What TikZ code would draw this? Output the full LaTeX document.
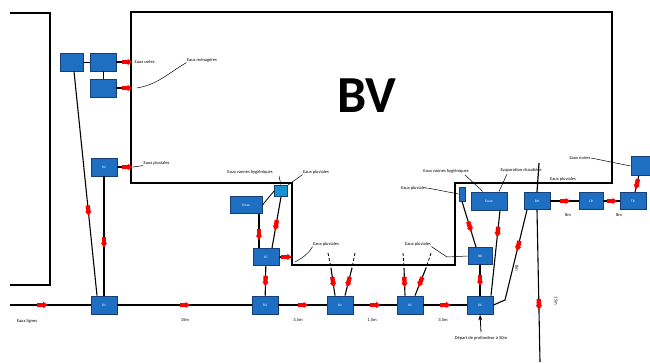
\documentclass[tikz,border=0pt]{standalone}
\usepackage{fontspec}
\setmainfont{Carlito}
\usetikzlibrary{decorations.markings}

\definecolor{blocbleu}{HTML}{1E6EC2}
\definecolor{blocbord}{HTML}{163F78}
\newcommand{\fleche}{%
  \fill[red] (-5pt,-2.2pt) rectangle (1.5pt,2.2pt);
  \fill[red] (1pt,-3.2pt) -- (5.5pt,0pt) -- (1pt,3.2pt) -- cycle;}

\begin{document}
\begin{tikzpicture}[
    x=1pt, y=-1pt,
    bloc/.style={draw=blocbord, fill=blocbleu, line width=0.8pt, inner sep=0pt,
        minimum width=26pt, minimum height=18pt, text=white,
        font=\fontsize{3.5}{4}\selectfont},
    etiq/.style={inner sep=0.5pt, font=\fontsize{4.5}{5}\selectfont},
    mur/.style={line width=1.8pt, line join=miter},
    trait/.style={line width=0.5pt},
    tuyau/.style={draw, line width=1.1pt, postaction={decorate,
        decoration={markings, mark=at position #1 with {\fleche}}}},
    tuyau/.default=0.5
  ]
  \useasboundingbox (0,0) rectangle (650,362);

  % murs
  \draw[mur] (10,13) -- (50,13) -- (50,285) -- (10,285);
  \draw[mur] (131,12) -- (612,12) -- (612,183) -- (455,183) -- (455,265)
    -- (292,265) -- (292,183) -- (131,183) -- cycle;
  \node[font=\fontsize{52}{52}\bfseries\selectfont] (bv) at (367,96) {BV};

  % blocs
  \node[bloc, minimum width=23pt] (b1) at (72,62) {};
  \node[bloc] (b2) at (103,62) {};
  \node[bloc] (b3) at (103,88) {};
  \node[bloc] (b4) at (104,167) {R2};
  \node[bloc] (r1) at (104,305) {R1};
  \node[bloc] (r2) at (265,305) {R3};
  \node[bloc] (r3) at (340,305) {R4};
  \node[bloc] (r4) at (410,305) {R5};
  \node[bloc] (r5) at (480,305) {R6};
  \node[bloc, minimum width=32pt, minimum height=17pt] (fosseA) at (246,205) {Fosse};
  \node[bloc, fill=blocbleu!75!cyan, minimum width=13pt, minimum height=11pt] (petitA) at (281,191) {};
  \node[bloc, minimum height=17pt] (r6) at (266,257) {R7};
  \node[bloc, minimum width=6pt, minimum height=14pt] (petitB) at (462,194) {};
  \node[bloc, minimum width=36pt] (fosseB) at (489,201) {Fosse};
  \node[bloc, minimum width=24pt, minimum height=17pt] (r7) at (480,256) {R8};
  \node[bloc, minimum height=17pt] (bh) at (537,201) {BH};
  \node[bloc, minimum width=24pt, minimum height=17pt] (c1) at (591,201) {CR};
  \node[bloc, minimum height=17pt] (c2) at (633,201) {TR};
  \node[bloc, minimum width=20pt, minimum height=19pt] (c3) at (641,166) {};

  % points libres
  \coordinate (entree) at (10,305);
  \coordinate (bvA) at (131,62);
  \coordinate (bvB) at (131,88);
  \coordinate (bvC) at (131,167);
  \coordinate (bvD) at (292,257);
  \coordinate (p1) at (328,253);
  \coordinate (q1) at (331,268);
  \coordinate (p2) at (355,253);
  \coordinate (q2) at (352,268);
  \coordinate (p3) at (403,253);
  \coordinate (q3) at (404,268);
  \coordinate (p4) at (431,253);
  \coordinate (q4) at (426,268);
  \coordinate (coude) at (505,300);
  \coordinate (bhhaut) at (539,163);
  \coordinate (bhbas) at (540,362);
  \coordinate (depart) at (481,332);

  % liaisons
  \draw[line width=0.8pt] (b1) -- (b2);
  \draw[line width=0.8pt] (b2) -- (b3);
  \draw[tuyau=0.7] (b2.east) -- (bvA);
  \draw[tuyau=0.7] (b3.east) -- (bvB);
  \draw[tuyau=0.7] (b4.east) -- (bvC);
  \draw[tuyau=0.62] ([xshift=2pt]b1.south) -- ([xshift=-7pt]r1.north);
  \draw[tuyau=0.55] (b4.south) -- (r1.north);
  \draw[tuyau=0.4] (entree) -- (r1);
  \draw[tuyau] (r1) -- (r2);
  \draw[tuyau] (r2) -- (r3);
  \draw[tuyau] (r3) -- (r4);
  \draw[tuyau] (r4) -- (r5);
  \draw[line width=0.8pt] (fosseA.east) -- (petitA.west);
  \draw[tuyau=0.6] ([xshift=13pt]fosseA.south) -- ([xshift=-7pt]r6.north);
  \draw[tuyau=0.55] (petitA.south) -- ([xshift=6pt]r6.north);
  \draw[tuyau=0.55] (r6.east) -- (bvD);
  \draw[tuyau] (r6) -- (r2);
  \draw[densely dashed, line width=0.8pt] (p1) -- (q1);
  \draw[densely dashed, line width=0.8pt] (p2) -- (q2);
  \draw[densely dashed, line width=0.8pt] (p3) -- (q3);
  \draw[densely dashed, line width=0.8pt] (p4) -- (q4);
  \draw[tuyau] (q1) -- ([xshift=-5pt]r3.north);
  \draw[tuyau] (q2) -- ([xshift=5pt]r3.north);
  \draw[tuyau] (q3) -- ([xshift=-5pt]r4.north);
  \draw[tuyau] (q4) -- ([xshift=5pt]r4.north);
  \draw[tuyau=0.55] (petitB.south) -- ([xshift=-4pt]r7.north);
  \draw[tuyau=0.25] ([xshift=11pt]fosseB.south) -- ([xshift=11pt]r5.north);
  \draw[tuyau] (r7) -- (r5);
  \draw[tuyau=0.35] ([xshift=-10pt]bh.south) -- (coude) -- (r5.east);
  \draw[line width=1.2pt] (bhhaut) -- (bh.north);
  \draw[tuyau=0.62] (bh.south) -- (bhbas);
  \draw[tuyau] (bh) -- (c1);
  \draw[tuyau] (c1) -- (c2);
  \draw[tuyau] (c3) -- (c2);
  \draw[-latex, line width=0.8pt] (depart) -- (r5.south);

  % etiquettes
  \node[etiq, anchor=west] (lUsees) at (134,62) {Eaux usées};
  \node[etiq] (lMenag) at (202,60) {Eaux ménagères};
  \draw[trait] (lMenag.south west) to[out=-150, in=10] (137,88);
  \node[etiq, anchor=west] (lPluvA) at (143,163) {Eaux pluviales};
  \draw[trait] (133,167) -- (lPluvA.south west);
  \node[etiq] (lVannesA) at (250,172) {Eaux vannes hygiéniques};
  \draw[trait] (279,176) -- (petitA.north);
  \node[etiq] (lPluvB) at (316,172) {Eaux pluviales};
  \draw[trait] (lPluvB.south west) -- (petitA.north east);
  \node[etiq] (lPluvC) at (326,244) {Eaux pluviales};
  \draw[trait] (lPluvC.south west) to[out=-120, in=30] (295,262);
  \node[etiq] (lPluvD) at (418,244) {Eaux pluviales};
  \draw[trait] (lPluvD.south east) -- (447,257) -- (r7.west);
  \node[etiq] (lPluvE) at (414,188) {Eaux pluviales};
  \draw[trait] (lPluvE.east) -- (petitB.west);
  \node[etiq] (lVannesB) at (446,171) {Eaux vannes hygiéniques};
  \draw[trait] (465,175) -- ([xshift=-6pt]fosseB.north);
  \node[etiq] (lEvap) at (521,170) {Evaporation chaudière};
  \draw[trait] (507,174) -- ([xshift=10pt]fosseB.north);
  \node[etiq] (lPluvF) at (563,179) {Eaux pluviales};
  \node[etiq] (lNoires) at (580,158) {Eaux noires};
  \draw[trait] (lNoires.east) -- (c3.west);
  \node[etiq] (lLigne) at (27,321) {Eaux lignes};
  \node[etiq] (lD1) at (185,320) {15m};
  \node[etiq] (lD2) at (298,320) {3,5m};
  \node[etiq] (lD3) at (372,320) {1,5m};
  \node[etiq] (lD4) at (443,320) {3,5m};
  \node[etiq] (lDepart) at (481,338) {Départ de profondeur à 50m};
  \node[etiq] (lD5) at (568,215) {8m};
  \node[etiq] (lD6) at (619,215) {8m};
  \node[etiq, rotate=-90] (lD7) at (517,268) {8m};
  \node[etiq, rotate=-90] (lD8) at (556,301) {15m};
\end{tikzpicture}
\end{document}
